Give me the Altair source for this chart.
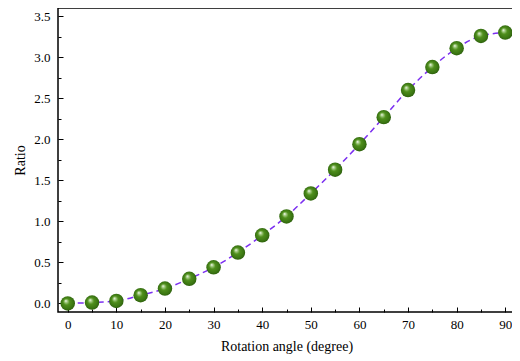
import altair as alt
import pandas as pd

angles = [0, 5, 10, 15, 20, 25, 30, 35, 40, 45, 50, 55, 60, 65, 70, 75, 80, 85, 90]
ratios = [0.0, 0.01, 0.03, 0.10, 0.18, 0.30, 0.44, 0.62, 0.83, 1.06, 1.34, 1.63,
          1.94, 2.27, 2.60, 2.88, 3.11, 3.26, 3.30]

x_major = [0, 10, 20, 30, 40, 50, 60, 70, 80, 90]
x_minor = [5, 15, 25, 35, 45, 55, 65, 75, 85]
y_major = [0.0, 0.5, 1.0, 1.5, 2.0, 2.5, 3.0, 3.5]
y_minor = [0.25, 0.75, 1.25, 1.75, 2.25, 2.75, 3.25]

df = pd.DataFrame({"angle": angles, "ratio": ratios})

FONT = "Liberation Serif"
xscale = alt.Scale(domain=[-2, 92], nice=False, zero=False)
yscale = alt.Scale(domain=[-0.105, 3.6], nice=False, zero=False)

base = alt.Chart(df)

line = base.mark_line(
    color="#7b2ff0", strokeDash=[6, 4], strokeWidth=1.5, interpolate="monotone"
).encode(
    x=alt.X("angle:Q", scale=xscale,
            axis=alt.Axis(orient="bottom", values=x_major, title="Rotation angle (degree)",
                          offset=-5, tickSize=5, domain=False, grid=False,
                          labelPadding=6, titlePadding=8, labelFlush=False)),
    y=alt.Y("ratio:Q", scale=yscale,
            axis=alt.Axis(orient="left", values=y_major, format=".1f", title="Ratio",
                          offset=-5, tickSize=5, domain=False, grid=False,
                          labelPadding=8, titlePadding=6, labelFlush=False)),
)

sphere = {
    "gradient": "radial",
    "x1": 0.36, "y1": 0.32, "r1": 0,
    "x2": 0.5, "y2": 0.5, "r2": 0.55,
    "stops": [
        {"offset": 0.0, "color": "#ffffff"},
        {"offset": 0.16, "color": "#a9cf8a"},
        {"offset": 0.4, "color": "#4f8f1c"},
        {"offset": 0.78, "color": "#3a7512"},
        {"offset": 1.0, "color": "#27560b"},
    ],
}

points = base.mark_point(
    shape="circle", filled=True, size=210, fill=sphere, opacity=1, strokeWidth=0
).encode(
    x=alt.X("angle:Q", scale=xscale,
            axis=alt.Axis(orient="bottom", values=x_minor, title=None, labels=False,
                          offset=-3, tickSize=3, domain=False, grid=False)),
    y=alt.Y("ratio:Q", scale=yscale,
            axis=alt.Axis(orient="left", values=y_minor, title=None, labels=False,
                          offset=-3, tickSize=3, domain=False, grid=False)),
)

chart = alt.layer(line, points).resolve_axis(
    x="independent", y="independent"
).properties(
    width=457, height=304,
    autosize=alt.AutoSizeParams(type="none"),
    padding={"left": 50, "top": 0, "right": -3, "bottom": 45},
).configure_view(
    stroke="black", strokeWidth=1.5
).configure_axis(
    labelFont=FONT, titleFont=FONT, labelFontSize=13, titleFontSize=14,
    labelColor="#000000", titleColor="#000000", tickColor="#000000",
    titleFontWeight="normal", tickWidth=1
)

chart.save("out.html", embed_options={"renderer": "svg", "actions": False})
